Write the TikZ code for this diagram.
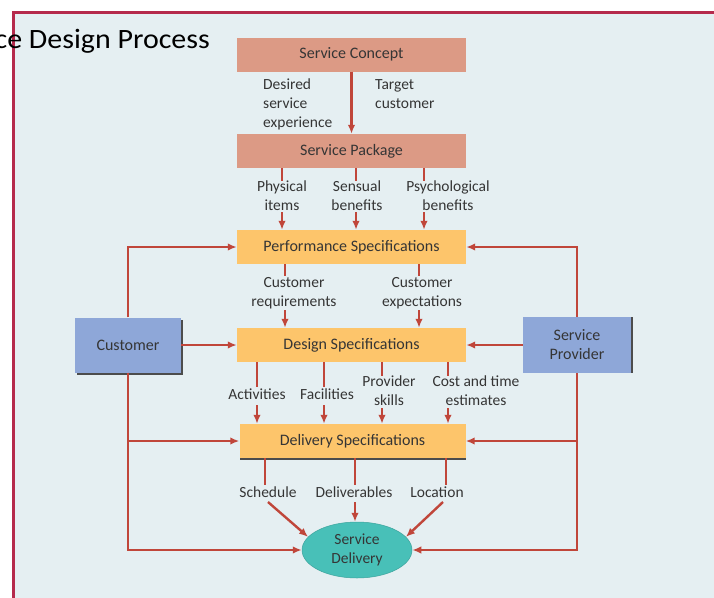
\documentclass[tikz,border=0pt]{standalone}
\usepackage{fontspec}
\setmainfont{Carlito}
\usetikzlibrary{arrows.meta,shapes.geometric,shadows}
\definecolor{framered}{HTML}{B52A4C}
\definecolor{panel}{HTML}{E5EFF2}
\definecolor{salmon}{HTML}{DC9A85}
\definecolor{specfill}{HTML}{FDC56B}
\definecolor{partyfill}{HTML}{8EA7D8}
\definecolor{delivfill}{HTML}{48C0B8}
\definecolor{flow}{HTML}{C0463A}
\definecolor{ink}{HTML}{353535}
\tikzset{
  box/.style={rectangle, inner sep=0pt, minimum width=229pt, minimum height=34pt, text=ink, font=\fontsize{16}{19}\selectfont},
  concept/.style={box, fill=salmon},
  specbox/.style={box, fill=specfill},
  partybox/.style={box, fill=partyfill, minimum width=106pt, minimum height=55pt, align=center},
  lbl/.style={inner sep=0pt, text=ink, align=center, font=\fontsize{15.5}{19}\selectfont},
  link/.style={draw=flow, line width=2.4pt},
  arr/.style={link, -{Latex[length=9pt,width=7.5pt]}},
}
\begin{document}
\begin{tikzpicture}[x=1pt, y=-1pt]
\clip (0,0) rectangle (714,597);
\fill[white] (0,0) rectangle (714,597);
\draw[draw=framered, line width=3pt, fill=panel] (13,12) rectangle (740,620);
\node[anchor=base east, inner sep=0pt, xscale=1.07, font=\fontsize{28}{34}\selectfont] (title) at (210,48) {Service Design Process};

% boxes
\node[concept] (sc) at (351.5,54.5) {Service Concept};
\node[concept] (sp) at (351.5,151) {Service Package};
\node[specbox] (ps) at (351.5,247) {Performance Specifications};
\node[specbox] (ds) at (351.5,345) {Design Specifications};
\node[specbox, minimum width=226pt, drop shadow={shadow xshift=0pt, shadow yshift=-2pt, fill=black!70, opacity=1}] (dels) at (352.5,441) {Delivery Specifications};
\node[partybox, drop shadow={shadow xshift=2pt, shadow yshift=-2pt, fill=black!70, opacity=1}] (cust) at (128,345) {Customer};
\node[partybox, minimum width=108pt, minimum height=56pt, drop shadow={shadow xshift=2pt, shadow yshift=0pt, fill=black!70, opacity=1}] (prov) at (577,345) {Service\\Provider};
\node[ellipse, inner sep=0pt, minimum width=110pt, minimum height=56pt, fill=delivfill, draw=delivfill!85!black, line width=0.5pt, text=ink, align=center, font=\fontsize{15.5}{19}\selectfont] (sd) at (357,550) {Service\\Delivery};

% concept to package
\node[lbl, anchor=west, align=left] (desired) at (263,104) {Desired\\service\\experience};
\node[lbl, anchor=west, align=left] (target) at (375,94.5) {Target\\customer};
\draw[arr] (sc) -- (sp);

% package to performance
\node[lbl] (phys) at (282,196) {Physical\\items};
\node[lbl] (sens) at (357,196) {Sensual\\benefits};
\node[lbl] (psy) at (448,196) {Psychological\\benefits};
\coordinate (phys1) at (282,181);
\coordinate (phys2) at (282,212);
\coordinate (sens1) at (356,181);
\coordinate (sens2) at (356,212);
\coordinate (psy1) at (424,181);
\coordinate (psy2) at (424,212);
\draw[link] (sp.south -| phys1) -- (phys1);
\draw[arr] (phys2) -- (ps.north -| phys2);
\draw[link] (sp.south -| sens1) -- (sens1);
\draw[arr] (sens2) -- (ps.north -| sens2);
\draw[link] (sp.south -| psy1) -- (psy1);
\draw[arr] (psy2) -- (ps.north -| psy2);

% performance to design
\node[lbl] (creq) at (294,293) {Customer\\requirements};
\node[lbl] (cexp) at (422,293) {Customer\\expectations};
\coordinate (creq1) at (285,276);
\coordinate (creq2) at (285,310);
\coordinate (cexp1) at (419,276);
\coordinate (cexp2) at (419,310);
\draw[link] (ps.south -| creq1) -- (creq1);
\draw[arr] (creq2) -- (ds.north -| creq2);
\draw[link] (ps.south -| cexp1) -- (cexp1);
\draw[arr] (cexp2) -- (ds.north -| cexp2);

% design to delivery
\node[lbl] (act) at (257,394) {Activities};
\node[lbl] (fac) at (327,394) {Facilities};
\node[lbl] (skill) at (389,391) {Provider\\skills};
\node[lbl] (cost) at (476,391) {Cost and time\\estimates};
\coordinate (act1) at (257,387);
\coordinate (act2) at (257,405);
\coordinate (fac1) at (324,387);
\coordinate (fac2) at (324,405);
\coordinate (skill1) at (382,376);
\coordinate (skill2) at (382,408);
\coordinate (cost1) at (448,376);
\coordinate (cost2) at (448,408);
\draw[link] (ds.south -| act1) -- (act1);
\draw[arr] (act2) -- (dels.north -| act2);
\draw[link] (ds.south -| fac1) -- (fac1);
\draw[arr] (fac2) -- (dels.north -| fac2);
\draw[link] (ds.south -| skill1) -- (skill1);
\draw[arr] (skill2) -- (dels.north -| skill2);
\draw[link] (ds.south -| cost1) -- (cost1);
\draw[arr] (cost2) -- (dels.north -| cost2);

% delivery to service delivery
\node[lbl] (sched) at (268,492) {Schedule};
\node[lbl] (dlvb) at (354,492) {Deliverables};
\node[lbl] (loc) at (437,492) {Location};
\coordinate (sched1) at (265,485);
\coordinate (sched2) at (268,502);
\coordinate (dlvb1) at (355,485);
\coordinate (dlvb2) at (355,502);
\coordinate (loc1) at (446,485);
\coordinate (loc2) at (443,502);
\draw[link] (dels.south -| sched1) -- (sched1);
\draw[arr] (sched2) -- (sd.165);
\draw[link] (dels.south -| dlvb1) -- (dlvb1);
\draw[arr] (dlvb2) -- (sd.north -| dlvb2);
\draw[link] (dels.south -| loc1) -- (loc1);
\draw[arr] (loc2) -- (sd.15);

% customer side
\draw[arr] (cust.north) |- (ps.west);
\draw[arr] (cust.east) -- (ds.west);
\draw[arr] (cust.south) |- (dels.west);
\draw[arr] (cust.south) |- (sd.west);

% provider side
\draw[arr] (prov.north) |- (ps.east);
\draw[arr] (prov.west) -- (ds.east);
\draw[arr] (prov.south) |- (dels.east);
\draw[arr] (prov.south) |- (sd.east);
\end{tikzpicture}
\end{document}
